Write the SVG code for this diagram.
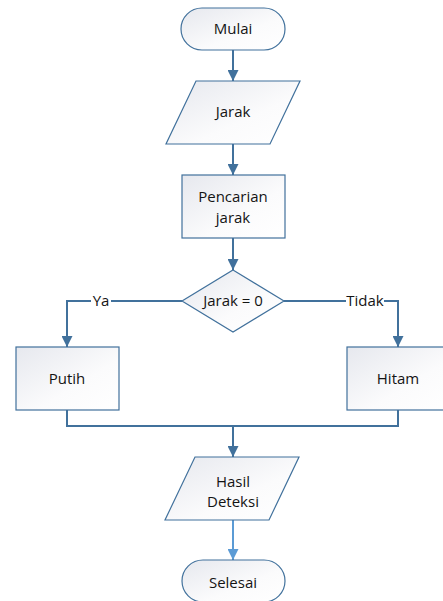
<svg xmlns="http://www.w3.org/2000/svg" width="443" height="601" viewBox="0 0 443 601">
<style>
.shape{fill:url(#g);stroke:#41719C;stroke-width:1.2}
.t{font-family:"Open Sans","Liberation Sans",sans-serif;font-size:15px;fill:#141414;text-anchor:middle}
.c{fill:none;stroke:#41719C;stroke-width:2}
.c2{fill:none;stroke:#5B9BD5;stroke-width:2}
</style>
<defs>
<linearGradient id="g" x1="0" y1="0" x2="1" y2="1">
<stop offset="0" stop-color="#e6e8ee"/>
<stop offset="0.6" stop-color="#fbfbfc"/>
<stop offset="1" stop-color="#ffffff"/>
</linearGradient>
<marker id="a" viewBox="0 0 10 10" refX="10" refY="5" markerWidth="5.5" markerHeight="5.5" orient="auto" markerUnits="strokeWidth">
<path d="M0,0 L10,5 L0,10 z" fill="#41719C"/>
</marker>
<marker id="a2" viewBox="0 0 10 10" refX="10" refY="5" markerWidth="5.5" markerHeight="5.5" orient="auto" markerUnits="strokeWidth">
<path d="M0,0 L10,5 L0,10 z" fill="#5B9BD5"/>
</marker>
</defs>
<rect width="443" height="601" fill="#ffffff"/>
<g id="connectors">
<path class="c" d="M233,50 V81" marker-end="url(#a)"/>
<path class="c" d="M233,144 V175" marker-end="url(#a)"/>
<path class="c" d="M233,238 V270" marker-end="url(#a)"/>
<path class="c" d="M182,301 H67 V347" marker-end="url(#a)"/>
<path class="c" d="M284,301 H398 V347" marker-end="url(#a)"/>
<path class="c" d="M67,410 V426 H398 V410"/>
<path class="c" d="M233,426 V457" marker-end="url(#a)"/>
<path class="c2" d="M233,520 V560" marker-end="url(#a2)"/>
<rect x="91" y="292" width="20" height="18" fill="#ffffff"/>
<text class="t" x="101" y="306">Ya</text>
<rect x="346" y="292" width="38" height="18" fill="#ffffff"/>
<text class="t" x="365" y="306">Tidak</text>
</g>
<g id="mulai">
<rect class="shape" x="181" y="8" width="104" height="42" rx="21"/>
<text class="t" x="233" y="34">Mulai</text>
</g>
<g id="jarak">
<polygon class="shape" points="196,81 300,81 270,144 166,144"/>
<text class="t" x="233" y="117">Jarak</text>
</g>
<g id="pencarian">
<rect class="shape" x="182" y="175" width="103" height="63"/>
<text class="t" x="233" y="202">Pencarian</text>
<text class="t" x="233" y="223">jarak</text>
</g>
<g id="decision">
<polygon class="shape" points="233,270 284,301 233,332 182,301"/>
<text class="t" x="233" y="306">Jarak = 0</text>
</g>
<g id="putih">
<rect class="shape" x="16" y="347" width="103" height="63"/>
<text class="t" x="67" y="384">Putih</text>
</g>
<g id="hitam">
<rect class="shape" x="347" y="347" width="103" height="63"/>
<text class="t" x="398" y="384">Hitam</text>
</g>
<g id="hasil">
<polygon class="shape" points="195,457 299,457 269,520 165,520"/>
<text class="t" x="233" y="487">Hasil</text>
<text class="t" x="233" y="507">Deteksi</text>
</g>
<g id="selesai">
<rect class="shape" x="182" y="560" width="103" height="42" rx="21"/>
<text class="t" x="233" y="588">Selesai</text>
</g>
</svg>
